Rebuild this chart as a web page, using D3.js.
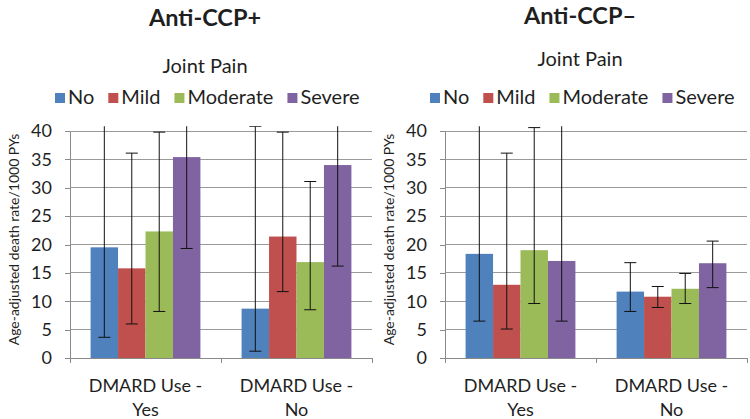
<!DOCTYPE html>
<html>
<head>
<meta charset="utf-8">
<script src="https://cdn.jsdelivr.net/npm/d3@7"></script>
<style>
  html, body { margin: 0; padding: 0; background: #fff; }
  svg { display: block; font-family: Lato, "Open Sans", sans-serif; }
</style>
</head>
<body>
<svg id="chart" width="750" height="419"></svg>
<script>
// ---- Data ----
const categories = ["DMARD Use - Yes", "DMARD Use - No"];
const categoryLines = [["DMARD Use -", "Yes"], ["DMARD Use -", "No"]];
const series = ["No", "Mild", "Moderate", "Severe"];
const colors = ["#4F81BD", "#C0504D", "#9BBB59", "#8064A2"];
const yTicks = [0, 5, 10, 15, 20, 25, 30, 35, 40];

// Anti-CCP+ : [DMARD Yes, DMARD No] per series
const posNo       = [19.5, 8.7];
const posMild     = [15.8, 21.4];
const posModerate = [22.3, 16.9];
const posSevere   = [35.4, 34.0];
const posLowNo = [3.65, 1.2],  posHighNo = [45, 40.8];
const posLowMild = [6.0, 11.7], posHighMild = [36.1, 39.8];
const posLowModerate = [8.2, 8.5], posHighModerate = [39.8, 31.1];
const posLowSevere = [19.3, 16.2], posHighSevere = [45, 45];

// Anti-CCP- : [DMARD Yes, DMARD No] per series
const negNo       = [18.35, 11.7];
const negMild     = [12.9, 10.8];
const negModerate = [19.0, 12.2];
const negSevere   = [17.1, 16.7];
const negLowNo = [6.5, 8.2],  negHighNo = [45, 16.8];
const negLowMild = [5.1, 8.9], negHighMild = [36.1, 12.6];
const negLowModerate = [9.6, 9.6], negHighModerate = [40.6, 14.9];
const negLowSevere = [6.5, 12.4], negHighSevere = [45, 20.6];

function buildRows(vals, lows, highs) {
  const rows = [];
  series.forEach((s, si) => {
    categories.forEach((c, ci) => {
      rows.push({ cat: c, ser: s, si, v: vals[si][ci], lo: lows[si][ci], hi: highs[si][ci] });
    });
  });
  return rows;
}

const panels = [
  {
    title: "Anti-CCP+", titleY: 26, jpY: 73,
    rows: buildRows([posNo, posMild, posModerate, posSevere],
                    [posLowNo, posLowMild, posLowModerate, posLowSevere],
                    [posHighNo, posHighMild, posHighModerate, posHighSevere])
  },
  {
    title: "Anti-CCP\u2013", titleY: 24, jpY: 66,
    rows: buildRows([negNo, negMild, negModerate, negSevere],
                    [negLowNo, negLowMild, negLowModerate, negLowSevere],
                    [negHighNo, negHighMild, negHighModerate, negHighSevere])
  }
];

const svg = d3.select("#chart");
const textColor = "#1f1f1f";

panels.forEach((p, pi) => {
  const g = svg.append("g").attr("transform", `translate(${pi * 375},0)`);
  const left = 70, right = 372, top = 131, bottom = 358;

  const x0 = d3.scaleBand().domain(categories).range([left, right]).padding(0);
  const x1 = d3.scaleBand().domain(series).range([0, x0.bandwidth()]).paddingInner(0).paddingOuter(0.75);
  const y = d3.scaleLinear().domain([0, 40]).range([bottom, top]);

  // Title
  g.append("text").attr("x", 205).attr("y", p.titleY).attr("text-anchor", "middle")
    .attr("font-size", 23.5).attr("font-weight", "bold").attr("fill", textColor).text(p.title);
  g.append("text").attr("x", 205).attr("y", p.jpY).attr("text-anchor", "middle")
    .attr("font-size", 20).attr("fill", textColor).text("Joint Pain");

  // Legend
  const leg = g.append("g").attr("transform", "translate(55,104)");
  let lx = 0;
  series.forEach((s, i) => {
    const it = leg.append("g").attr("transform", `translate(${lx},0)`);
    it.append("rect").attr("x", 0).attr("y", -11).attr("width", 10).attr("height", 10).attr("fill", colors[i]);
    const t = it.append("text").attr("x", 13).attr("y", 0).attr("font-size", 20).attr("fill", textColor).text(s);
    lx += 13 + t.node().getComputedTextLength() + 14;
  });

  // Gridlines
  g.append("g").selectAll("line").data(yTicks.filter(d => d > 0)).join("line")
    .attr("x1", left).attr("x2", right).attr("y1", d => y(d)).attr("y2", d => y(d))
    .attr("stroke", "#9a9a9a").attr("stroke-width", 1).attr("shape-rendering", "crispEdges");

  // Y axis
  const yAxis = g.append("g").attr("transform", `translate(${left},0)`)
    .call(d3.axisLeft(y).tickValues(yTicks).tickSize(5).tickPadding(13).tickSizeOuter(0));
  yAxis.select(".domain").attr("stroke", "#8a8a8a").attr("shape-rendering", "crispEdges");
  yAxis.selectAll(".tick line").attr("stroke", "#8a8a8a").attr("shape-rendering", "crispEdges");
  yAxis.selectAll(".tick text").attr("font-size", 18).attr("fill", textColor).attr("font-family", "Lato, sans-serif");

  // Y axis title
  g.append("text").attr("transform", `translate(19,${(top + bottom) / 2 - 5}) rotate(-90)`)
    .attr("text-anchor", "middle").attr("font-size", 14).attr("fill", textColor)
    .text("Age-adjusted death rate/1000 PYs");

  // Clip
  const clipId = "clip" + pi;
  g.append("clipPath").attr("id", clipId).append("rect")
    .attr("x", left).attr("y", y(40.85)).attr("width", right - left).attr("height", bottom - y(40.85));

  const plot = g.append("g").attr("clip-path", `url(#${clipId})`);

  // Bars
  plot.selectAll("rect.bar").data(p.rows).join("rect").attr("class", "bar")
    .attr("x", d => x0(d.cat) + x1(d.ser))
    .attr("width", x1.bandwidth())
    .attr("y", d => y(d.v))
    .attr("height", d => y(0) - y(d.v))
    .attr("fill", d => colors[d.si]);

  // Error bars
  const cap = 6;
  const eb = plot.selectAll("g.eb").data(p.rows).join("g").attr("class", "eb");
  eb.append("line")
    .attr("x1", d => x0(d.cat) + x1(d.ser) + x1.bandwidth() / 2)
    .attr("x2", d => x0(d.cat) + x1(d.ser) + x1.bandwidth() / 2)
    .attr("y1", d => y(d.lo)).attr("y2", d => y(d.hi))
    .attr("stroke", "#111").attr("stroke-width", 1);
  eb.append("line")
    .attr("x1", d => x0(d.cat) + x1(d.ser) + x1.bandwidth() / 2 - cap)
    .attr("x2", d => x0(d.cat) + x1(d.ser) + x1.bandwidth() / 2 + cap)
    .attr("y1", d => y(d.lo)).attr("y2", d => y(d.lo))
    .attr("stroke", "#111").attr("stroke-width", 1);
  eb.append("line")
    .attr("x1", d => x0(d.cat) + x1(d.ser) + x1.bandwidth() / 2 - cap)
    .attr("x2", d => x0(d.cat) + x1(d.ser) + x1.bandwidth() / 2 + cap)
    .attr("y1", d => y(d.hi)).attr("y2", d => y(d.hi))
    .attr("stroke", "#111").attr("stroke-width", 1);

  // X axis
  const xAxis = g.append("g").attr("transform", `translate(0,${bottom})`);
  xAxis.append("line").attr("x1", left).attr("x2", right).attr("y1", 0).attr("y2", 0)
    .attr("stroke", "#8a8a8a").attr("shape-rendering", "crispEdges");
  const bounds = [left, ...categories.map(c => x0(c) + x0.bandwidth())];
  xAxis.selectAll("line.tk").data(bounds).join("line").attr("class", "tk")
    .attr("x1", d => d).attr("x2", d => d).attr("y1", 0).attr("y2", 5)
    .attr("stroke", "#8a8a8a").attr("shape-rendering", "crispEdges");
  categories.forEach((c, ci) => {
    const t = xAxis.append("text").attr("text-anchor", "middle").attr("font-size", 18).attr("fill", textColor);
    categoryLines[ci].forEach((ln, li) => {
      t.append("tspan").attr("x", x0(c) + x0.bandwidth() / 2).attr("y", 34 + li * 24).text(ln);
    });
  });
});
</script>
</body>
</html>
